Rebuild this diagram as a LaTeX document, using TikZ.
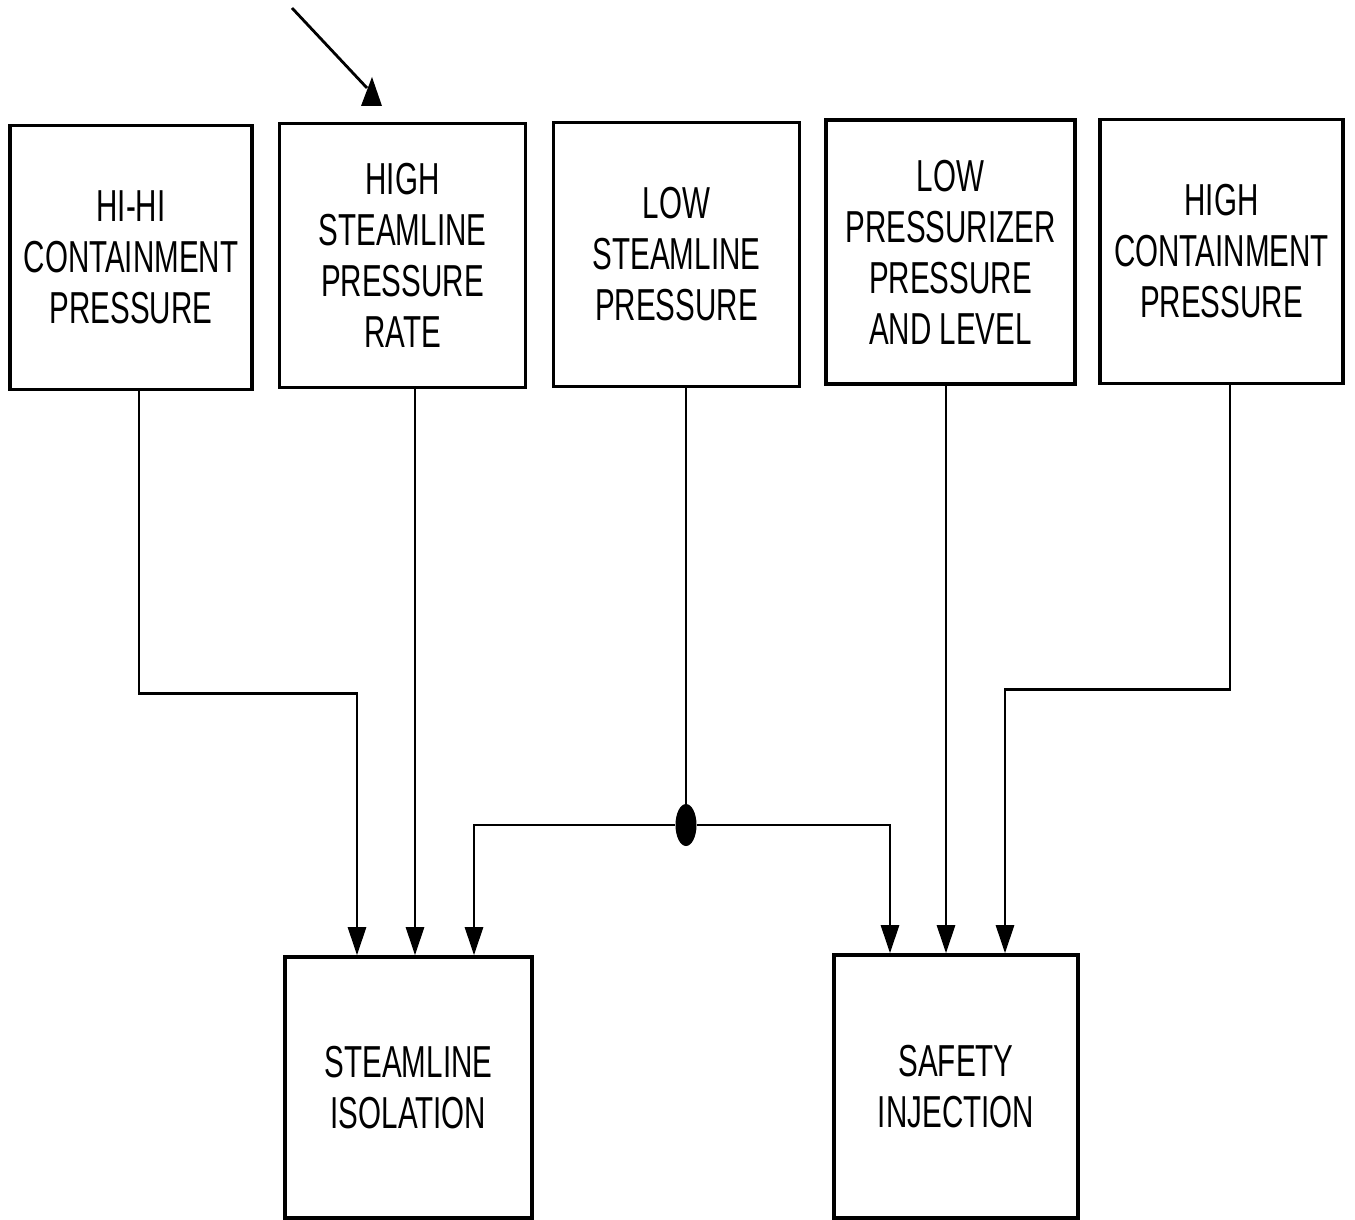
\documentclass[tikz,border=0pt]{standalone}
\usepackage{fontspec}
\setmainfont{Liberation Sans}[FakeStretch=0.66]
\usetikzlibrary{arrows.meta,shapes.geometric}
\tikzset{s/.style={draw,line width=1.8pt,minimum width=123pt,minimum height=132pt,inner sep=0pt,align=center,font=\fontsize{22.4pt}{25.5pt}\selectfont},
 flow/.style={-{Triangle[length=14pt,width=9pt]},line width=1.4pt},wire/.style={line width=1.4pt},
 jn/.style={ellipse,fill,minimum width=10.5pt,minimum height=21pt,inner sep=0pt}}

\begin{document}
\begin{tikzpicture}[x=0.5pt,y=-0.5pt]
\useasboundingbox (0,0) rectangle (1355,1220);
% trip signals
\node[s,minimum width=121pt](hh) at (131,257.5){HI-HI\\CONTAINMENT\\PRESSURE};
\node[s](hs) at (402.5,255.5){HIGH\\STEAMLINE\\PRESSURE\\RATE};
\node[s](ls) at (676.5,254.5){LOW\\STEAMLINE\\PRESSURE};
\node[s,minimum width=124.5pt](lp) at (950.5,252){LOW\\PRESSURIZER\\PRESSURE\\AND LEVEL};
\node[s,minimum width=121.5pt](hc) at (1221.5,251.5){HIGH\\CONTAINMENT\\PRESSURE};
% actuations
\node[s,minimum width=123.5pt,minimum height=130.5pt](iso) at (408.5,1087.5){STEAMLINE\\ISOLATION};
\node[s,minimum width=122pt,minimum height=131.5pt](si) at (956,1086.5){SAFETY\\INJECTION};
\node[jn](dot) at (686,825){};
% reference arrow
\coordinate(tail) at (292,8);\coordinate(head) at (367,88);
\draw[wire](tail)--(head);
\fill(372,77)--(361,106)--(382,106)--cycle;
% signal lines
\draw[flow]([xshift=4pt]hh.south)--++(0,302)-|([xshift=-25.75pt]iso.north);
\draw[flow]([xshift=6.25pt]hs.south)--([xshift=6.25pt]hs.south|-iso.north);
\draw[wire]([xshift=4.75pt]ls.south)--(dot);
\draw[flow](dot)-|([xshift=32.75pt]iso.north);
\draw[flow](dot)-|([xshift=-33pt]si.north);
\draw[flow]([xshift=-2.25pt]lp.south)--([xshift=-2.25pt]lp.south|-si.north);
\draw[flow]([xshift=4.25pt]hc.south)--++(0,304)-|([xshift=24.5pt]si.north);
\end{tikzpicture}
\end{document}
